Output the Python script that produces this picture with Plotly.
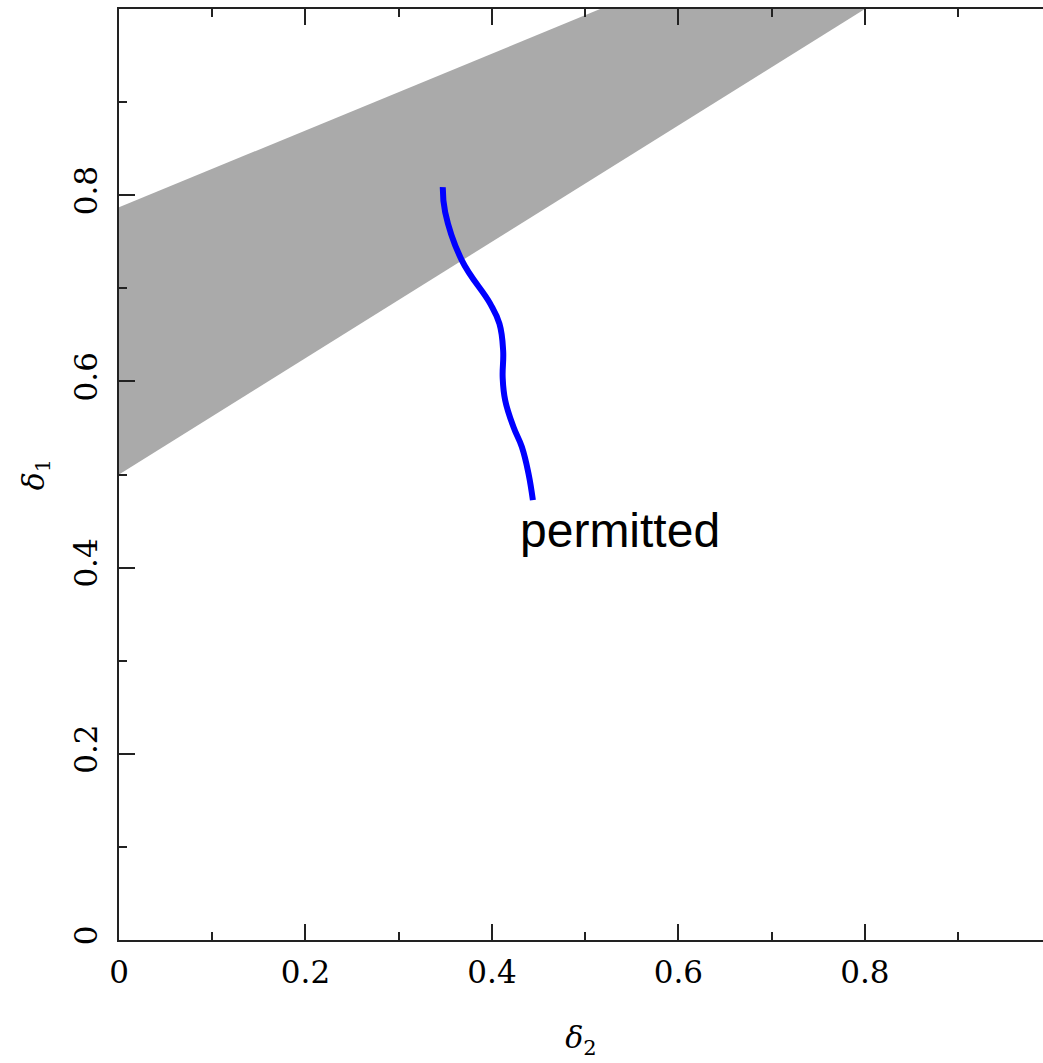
import plotly.graph_objects as go

# Shaded region in the (delta2, delta1) plane, clipped by the axis box at delta1 = 1
band_d2 = [0.0, 0.8, 0.516, 0.0]
band_d1 = [0.5, 1.0, 1.0, 0.787]

# Permitted trajectory
curve_d2 = [0.3473, 0.3498, 0.3677, 0.3981, 0.4080, 0.4120, 0.4115,
            0.4142, 0.4231, 0.4321, 0.4392, 0.4439]
curve_d1 = [0.8087, 0.7819, 0.7300, 0.6835, 0.6620, 0.6330, 0.6040,
            0.5797, 0.5510, 0.5296, 0.5010, 0.4724]

label_text = "permitted"
label_pos = (0.428, 0.440)

x_ticks = [0, 0.2, 0.4, 0.6, 0.8]
x_ticklabels = ["0", "0.2", "0.4", "0.6", "0.8"]
y_ticks = [0, 0.2, 0.4, 0.6, 0.8]
y_ticklabels = ["0", "0.2", "0.4", "0.6", "0.8"]

tick_font = dict(family="DejaVu Serif", size=31, color="black")
title_font = dict(family="DejaVu Serif", size=30, color="black")

fig = go.Figure()
fig.add_trace(go.Scatter(
    x=band_d2, y=band_d1, mode="lines", fill="toself",
    fillcolor="#aaaaaa", line=dict(width=0), hoverinfo="skip",
    showlegend=False,
))
fig.add_trace(go.Scatter(
    x=curve_d2, y=curve_d1, mode="lines",
    line=dict(color="#0000ff", width=6, shape="spline", smoothing=1.2),
    showlegend=False,
))
fig.add_annotation(
    x=label_pos[0], y=label_pos[1], text=label_text, showarrow=False,
    xanchor="left", yanchor="middle",
    font=dict(family="Liberation Sans", size=48, color="black"),
)

fig.update_layout(
    width=1043, height=1063,
    margin=dict(l=119, r=0, t=9, b=123),
    plot_bgcolor="white", paper_bgcolor="white",
    showlegend=False,
)
fig.update_xaxes(
    range=[0, 0.991], showgrid=False, zeroline=False,
    showline=True, linecolor="#222", linewidth=2, mirror="ticks",
    ticks="inside", ticklen=16, tickwidth=1.5, tickcolor="#222",
    tickvals=x_ticks, ticktext=x_ticklabels, tickfont=tick_font,
    ticklabelstandoff=4,
    minor=dict(dtick=0.1, tick0=0, ticks="inside", ticklen=8,
               tickwidth=1.5, tickcolor="#222"),
    title=dict(text="<i>δ</i><sub>2</sub>", font=title_font, standoff=38),
)
fig.update_yaxes(
    range=[0, 1.0], showgrid=False, zeroline=False,
    showline=True, linecolor="#222", linewidth=2, mirror=False,
    ticks="inside", ticklen=16, tickwidth=1.5, tickcolor="#222",
    tickvals=y_ticks, ticktext=y_ticklabels, tickfont=tick_font,
    tickangle=-90, ticklabelstandoff=8,
    minor=dict(dtick=0.1, tick0=0, ticks="inside", ticklen=8,
               tickwidth=1.5, tickcolor="#222"),
    title=dict(text="<i>δ</i><sub>1</sub>", font=title_font, standoff=14),
)

fig.write_html("out.html")
